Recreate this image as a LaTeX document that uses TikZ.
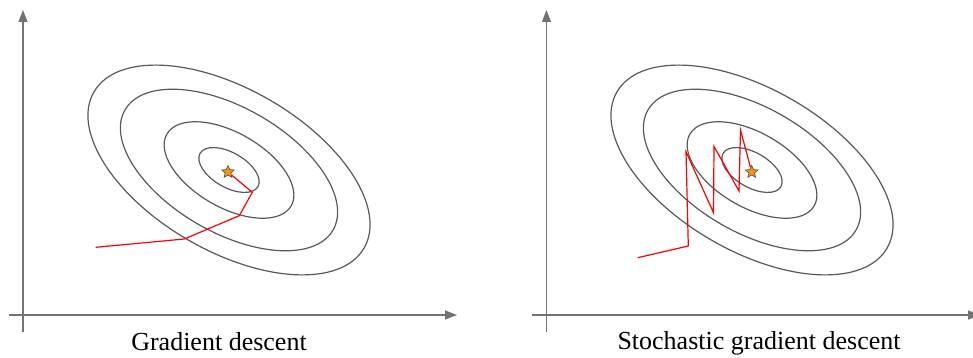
\documentclass[tikz,border=0pt]{standalone}
\usepackage{fontspec}
\setmainfont{Liberation Serif}
\usetikzlibrary{arrows.meta,shapes.geometric}

\begin{document}
\begin{tikzpicture}[x=1pt,y=-1pt,
  axis/.style={draw=black!55, line width=1.4pt, -{Triangle[length=12pt,width=9pt]}},
  contour/.style={draw=black!65, line width=1.2pt},
  descent/.style={draw=red, line width=1.2pt},
  optimum/.style={star, star points=5, star point ratio=2.2, minimum size=13pt, inner sep=0pt, fill=orange!85!yellow, draw=black!65, line width=0.7pt},
  caption/.style={font=\fontsize{26}{30}\selectfont}]
\clip (0,0) rectangle (973,358);
% left panel: gradient descent
\draw[axis] (23,332) -- (23,10);
\draw[axis] (9,315) -- (457,315);
\foreach \s in {1,0.77,0.46,0.214}
  \draw[contour, rotate around={-30:(229,170)}] (229,170) ellipse [x radius=156*\s, y radius=81*\s];
\node[optimum] (opt1) at (228,172) {};
\coordinate (g0) at (95.7,247.3);
\coordinate (g1) at (184.3,239);
\coordinate (g2) at (239.3,215.7);
\coordinate (g3) at (252.3,192.3);
\draw[descent] (g0) -- (g1) -- (g2) -- (g3) -- (opt1);
\node[caption] (gd) at (219,342) {Gradient descent};
% right panel: stochastic gradient descent
\draw[axis] (546.5,332) -- (546.5,10);
\draw[axis] (532,315) -- (980,315);
\foreach \s in {1,0.77,0.46,0.214}
  \draw[contour, rotate around={-30:(752,170)}] (752,170) ellipse [x radius=156*\s, y radius=81*\s];
\node[optimum] (opt2) at (751.7,172) {};
\coordinate (s0) at (637.7,257.7);
\coordinate (s1) at (688.3,246);
\coordinate (s2) at (686,151.7);
\coordinate (s3) at (713.5,212.7);
\coordinate (s4) at (714,146.5);
\coordinate (s5) at (739,191);
\coordinate (s6) at (740.5,130);
\draw[descent] (s0) -- (s1) -- (s2) -- (s3) -- (s4) -- (s5) -- (s6) -- (opt2);
\node[caption] (sgd) at (759,343) {Stochastic gradient descent};
\end{tikzpicture}
\end{document}
